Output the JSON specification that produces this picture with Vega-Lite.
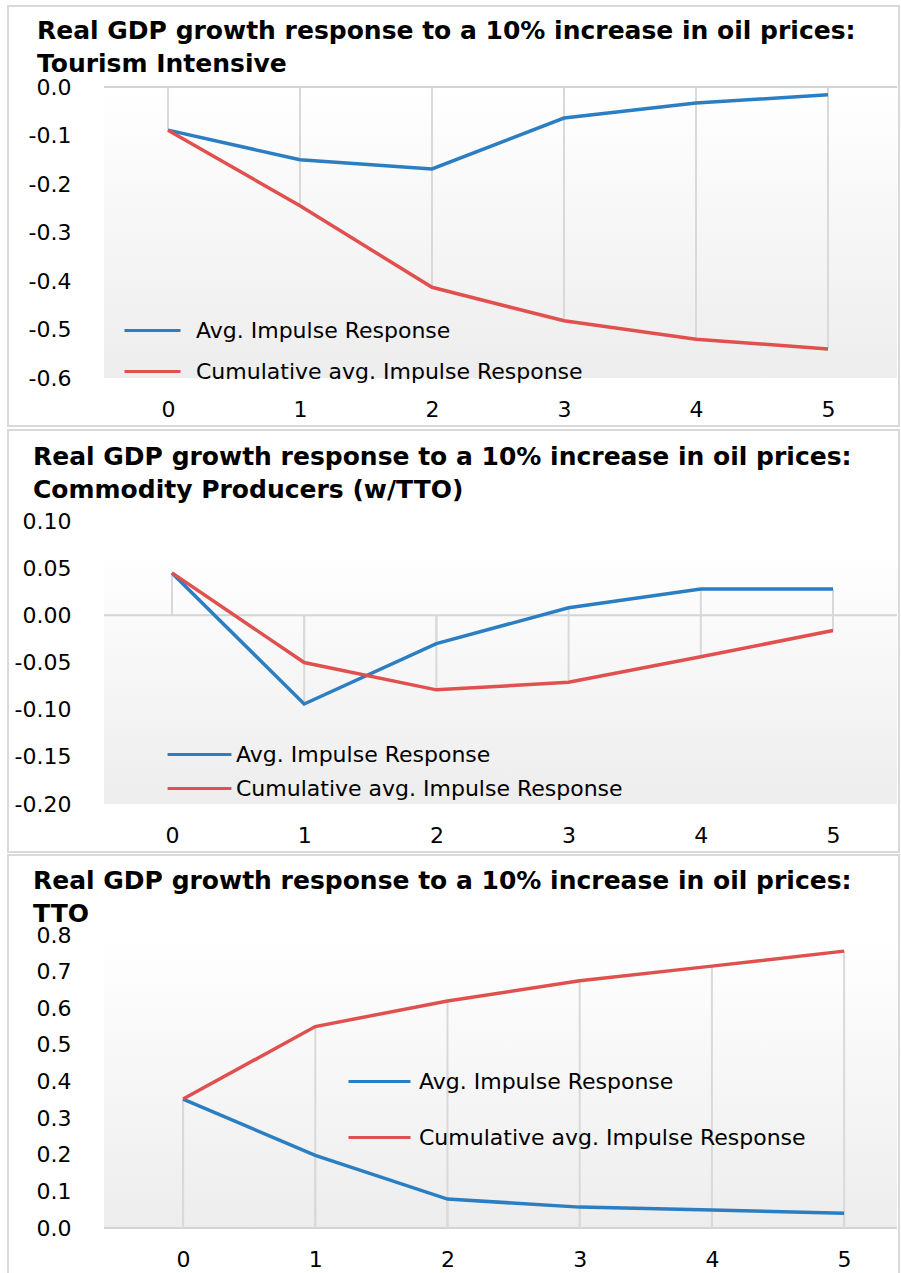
{
  "$schema": "https://vega.github.io/schema/vega-lite/v6.json",
  "background": "white",
  "padding": {"left": 7, "top": 5, "right": 1, "bottom": 0},
  "config": {
    "locale": {"number": {"decimal": ".", "thousands": ",", "grouping": [3], "currency": ["$", ""], "minus": "-"}},
    "font": "DejaVu Sans",
    "view": {"stroke": null},
    "concat": {"spacing": 0},
    "axis": {"grid": false, "domain": false, "ticks": false, "labelFont": "DejaVu Sans", "labelFontSize": 22, "labelColor": "#000", "title": null, "labelOverlap": false},
    "axisY": {"labelPadding": 33},
    "axisX": {"labelPadding": 21},
    "title": {"font": "DejaVu Sans", "fontSize": 25, "fontWeight": "bold", "anchor": "start", "frame": "group", "lineHeight": 33, "color": "#000"},
    "legend": {"title": null, "symbolStrokeWidth": 3, "labelFont": "DejaVu Sans", "labelFontSize": 22, "labelColor": "#000", "labelLimit": 0}
  },
  "resolve": {"scale": {"color": "independent"}, "legend": {"color": "independent"}},
  "vconcat": [
    {
      "width": 793,
      "height": 291,
      "title": {"text": ["Real GDP growth response to a 10% increase in oil prices:", "Tourism Intensive"], "dx": -67, "offset": -72},
      "data": {"values": [
        {"t": 0, "series": "Avg. Impulse Response", "value": -0.089},
        {"t": 1, "series": "Avg. Impulse Response", "value": -0.15},
        {"t": 2, "series": "Avg. Impulse Response", "value": -0.169},
        {"t": 3, "series": "Avg. Impulse Response", "value": -0.064},
        {"t": 4, "series": "Avg. Impulse Response", "value": -0.033},
        {"t": 5, "series": "Avg. Impulse Response", "value": -0.016},
        {"t": 0, "series": "Cumulative avg. Impulse Response", "value": -0.089},
        {"t": 1, "series": "Cumulative avg. Impulse Response", "value": -0.245},
        {"t": 2, "series": "Cumulative avg. Impulse Response", "value": -0.413},
        {"t": 3, "series": "Cumulative avg. Impulse Response", "value": -0.482},
        {"t": 4, "series": "Cumulative avg. Impulse Response", "value": -0.52},
        {"t": 5, "series": "Cumulative avg. Impulse Response", "value": -0.54}
      ]},
      "layer": [
        {
          "data": {"values": [{"k": 1}]},
          "mark": {"type": "rect", "filled": false, "color": "#d9d9d9", "strokeWidth": 2},
          "encoding": {
            "x": {"datum": -1.212, "type": "quantitative", "scale": {"domain": [-0.485, 5.523], "nice": false, "zero": false}, "axis": {"values": [0, 1, 2, 3, 4, 5], "format": "d"}},
            "x2": {"datum": 5.538},
            "y": {"datum": 0.167, "type": "quantitative", "scale": {"domain": [-0.6, 0], "nice": false, "zero": false}, "axis": {"values": [0, -0.1, -0.2, -0.3, -0.4, -0.5, -0.6], "format": ".1f", "labelOverlap": false}},
            "y2": {"datum": -0.699}
          }
        },
        {
          "data": {"values": [{"k": 1}]},
          "mark": {"type": "rect", "color": {"gradient": "linear", "x1": 0, "y1": 0, "x2": 0, "y2": 1, "stops": [{"offset": 0, "color": "#ffffff"}, {"offset": 1, "color": "#ededed"}]}},
          "encoding": {
            "y": {"datum": 0, "type": "quantitative"},
            "y2": {"datum": -0.6}
          }
        },
        {
          "data": {"values": [{"k": 1}]},
          "mark": {"type": "rule", "color": "#d4d4d4", "strokeWidth": 2},
          "encoding": {"y": {"datum": 0, "type": "quantitative"}}
        },
        {
          "mark": {"type": "rule", "color": "#d9d9d9", "strokeWidth": 2},
          "encoding": {
            "x": {"field": "t", "type": "quantitative"},
            "y": {"field": "value", "type": "quantitative"},
            "y2": {"datum": 0}
          }
        },
        {
          "mark": {"type": "line", "strokeWidth": 3.5},
          "encoding": {
            "x": {"field": "t", "type": "quantitative"},
            "y": {"field": "value", "type": "quantitative", "axis": {"values": [0, -0.1, -0.2, -0.3, -0.4, -0.5, -0.6], "format": ".1f", "labelOverlap": false}},
            "color": {"field": "series", "type": "nominal", "scale": {"domain": ["Avg. Impulse Response", "Cumulative avg. Impulse Response"], "range": ["#2b7ec1", "#e0504e"]}, "legend": {"orient": "none", "legendX": 19, "legendY": 214, "symbolType": "stroke", "symbolSize": 3136, "labelOffset": 14, "rowPadding": 0}}
          }
        }
      ]
    },
    {
      "width": 793,
      "height": 283,
      "title": {"text": ["Real GDP growth response to a 10% increase in oil prices:", "Commodity Producers (w/TTO)"], "dx": -71, "offset": -74},
      "data": {"values": [
        {"t": 0, "series": "Avg. Impulse Response", "value": 0.045},
        {"t": 1, "series": "Avg. Impulse Response", "value": -0.094},
        {"t": 2, "series": "Avg. Impulse Response", "value": -0.030},
        {"t": 3, "series": "Avg. Impulse Response", "value": 0.008},
        {"t": 4, "series": "Avg. Impulse Response", "value": 0.028},
        {"t": 5, "series": "Avg. Impulse Response", "value": 0.028},
        {"t": 0, "series": "Cumulative avg. Impulse Response", "value": 0.045},
        {"t": 1, "series": "Cumulative avg. Impulse Response", "value": -0.050},
        {"t": 2, "series": "Cumulative avg. Impulse Response", "value": -0.079},
        {"t": 3, "series": "Cumulative avg. Impulse Response", "value": -0.071},
        {"t": 4, "series": "Cumulative avg. Impulse Response", "value": -0.044},
        {"t": 5, "series": "Cumulative avg. Impulse Response", "value": -0.016}
      ]},
      "layer": [
        {
          "data": {"values": [{"k": 1}]},
          "mark": {"type": "rect", "filled": false, "color": "#d9d9d9", "strokeWidth": 2},
          "encoding": {
            "x": {"datum": -1.240, "type": "quantitative", "scale": {"domain": [-0.514, 5.484], "nice": false, "zero": false}, "axis": {"values": [0, 1, 2, 3, 4, 5], "format": "d"}},
            "x2": {"datum": 5.499},
            "y": {"datum": 0.1965, "type": "quantitative", "scale": {"domain": [-0.2, 0.1], "nice": false, "zero": false}, "axis": {"values": [0.1, 0.05, 0, -0.05, -0.1, -0.15, -0.2], "format": ".2f", "labelOverlap": false}},
            "y2": {"datum": -0.2509}
          }
        },
        {
          "data": {"values": [{"k": 1}]},
          "mark": {"type": "rect", "color": {"gradient": "linear", "x1": 0, "y1": 0, "x2": 0, "y2": 1, "stops": [{"offset": 0, "color": "#ffffff"}, {"offset": 1, "color": "#ededed"}]}},
          "encoding": {
            "y": {"datum": 0.069, "type": "quantitative"},
            "y2": {"datum": -0.2}
          }
        },
        {
          "data": {"values": [{"k": 1}]},
          "mark": {"type": "rule", "color": "#d4d4d4", "strokeWidth": 2},
          "encoding": {"y": {"datum": 0, "type": "quantitative"}}
        },
        {
          "mark": {"type": "rule", "color": "#d9d9d9", "strokeWidth": 2},
          "encoding": {
            "x": {"field": "t", "type": "quantitative"},
            "y": {"field": "value", "type": "quantitative"},
            "y2": {"datum": 0}
          }
        },
        {
          "mark": {"type": "line", "strokeWidth": 3.5},
          "encoding": {
            "x": {"field": "t", "type": "quantitative"},
            "y": {"field": "value", "type": "quantitative", "axis": {"values": [0.1, 0.05, 0, -0.05, -0.1, -0.15, -0.2], "format": ".2f", "labelOverlap": false}},
            "color": {"field": "series", "type": "nominal", "scale": {"domain": ["Avg. Impulse Response", "Cumulative avg. Impulse Response"], "range": ["#2b7ec1", "#e0504e"]}, "legend": {"orient": "none", "legendX": 73, "legendY": 211, "symbolType": "M-1.52,0H1.52", "symbolSize": 1764, "labelOffset": 14, "rowPadding": 0}}
          }
        }
      ]
    },
    {
      "width": 793,
      "height": 293,
      "title": {"text": ["Real GDP growth response to a 10% increase in oil prices:", "TTO"], "dx": -71, "offset": -73},
      "data": {"values": [
        {"t": 0, "series": "Avg. Impulse Response", "value": 0.352},
        {"t": 1, "series": "Avg. Impulse Response", "value": 0.198},
        {"t": 2, "series": "Avg. Impulse Response", "value": 0.079},
        {"t": 3, "series": "Avg. Impulse Response", "value": 0.057},
        {"t": 4, "series": "Avg. Impulse Response", "value": 0.049},
        {"t": 5, "series": "Avg. Impulse Response", "value": 0.040},
        {"t": 0, "series": "Cumulative avg. Impulse Response", "value": 0.352},
        {"t": 1, "series": "Cumulative avg. Impulse Response", "value": 0.55},
        {"t": 2, "series": "Cumulative avg. Impulse Response", "value": 0.62},
        {"t": 3, "series": "Cumulative avg. Impulse Response", "value": 0.675},
        {"t": 4, "series": "Cumulative avg. Impulse Response", "value": 0.715},
        {"t": 5, "series": "Cumulative avg. Impulse Response", "value": 0.756}
      ]},
      "layer": [
        {
          "data": {"values": [{"k": 1}]},
          "mark": {"type": "rect", "filled": false, "color": "#d9d9d9", "strokeWidth": 2},
          "encoding": {
            "x": {"datum": -1.324, "type": "quantitative", "scale": {"domain": [-0.598, 5.4], "nice": false, "zero": false}, "axis": {"values": [0, 1, 2, 3, 4, 5], "format": "d", "labelPadding": 21}},
            "x2": {"datum": 5.415},
            "y": {"datum": 1.0184, "type": "quantitative", "scale": {"domain": [0, 0.8], "nice": false, "zero": false}, "axis": {"values": [0, 0.1, 0.2, 0.3, 0.4, 0.5, 0.6, 0.7, 0.8], "format": ".1f", "labelOverlap": false, "tickCount": 9}},
            "y2": {"datum": -0.131}
          }
        },
        {
          "data": {"values": [{"k": 1}]},
          "mark": {"type": "rect", "color": {"gradient": "linear", "x1": 0, "y1": 0, "x2": 0, "y2": 1, "stops": [{"offset": 0, "color": "#ffffff"}, {"offset": 1, "color": "#ededed"}]}},
          "encoding": {
            "y": {"datum": 0.8, "type": "quantitative"},
            "y2": {"datum": 0}
          }
        },
        {
          "data": {"values": [{"k": 1}]},
          "mark": {"type": "rule", "color": "#d4d4d4", "strokeWidth": 2},
          "encoding": {"y": {"datum": 0, "type": "quantitative"}}
        },
        {
          "mark": {"type": "rule", "color": "#d9d9d9", "strokeWidth": 2},
          "encoding": {
            "x": {"field": "t", "type": "quantitative"},
            "y": {"field": "value", "type": "quantitative"},
            "y2": {"datum": 0}
          }
        },
        {
          "mark": {"type": "line", "strokeWidth": 3.5},
          "encoding": {
            "x": {"field": "t", "type": "quantitative"},
            "y": {"field": "value", "type": "quantitative", "axis": {"values": [0, 0.1, 0.2, 0.3, 0.4, 0.5, 0.6, 0.7, 0.8], "format": ".1f", "labelOverlap": false, "tickCount": 9}},
            "color": {"field": "series", "type": "nominal", "scale": {"domain": ["Avg. Impulse Response", "Cumulative avg. Impulse Response"], "range": ["#2b7ec1", "#e0504e"]}, "legend": {"orient": "none", "legendX": 243, "legendY": 114, "symbolType": "stroke", "symbolSize": 3844, "labelOffset": 7, "rowPadding": 12}}
          }
        }
      ]
    }
  ]
}
